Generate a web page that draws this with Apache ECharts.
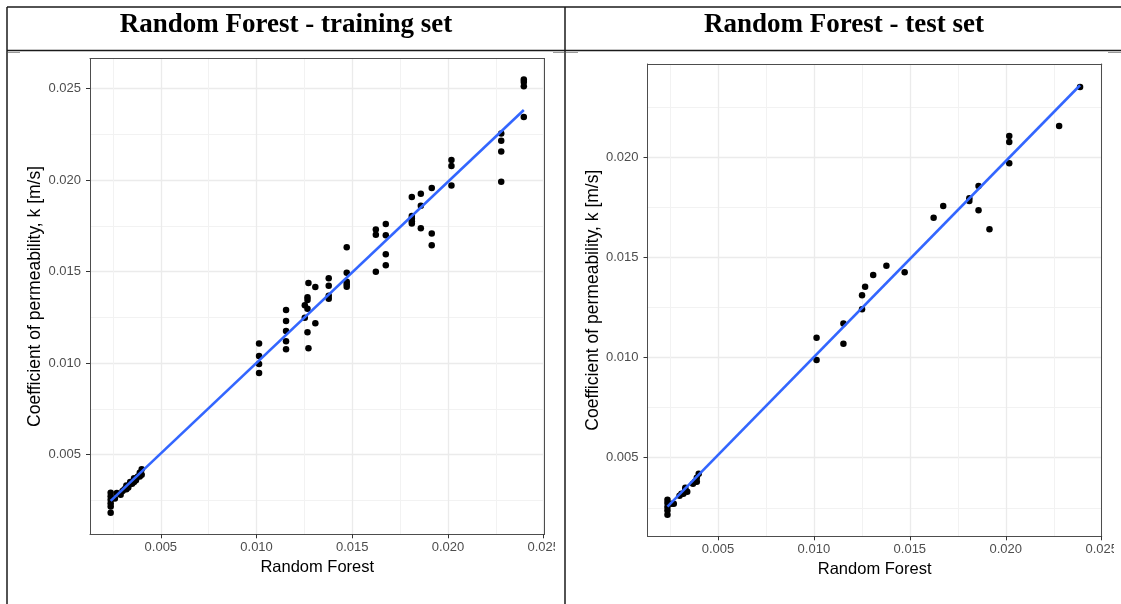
<!DOCTYPE html>
<html><head><meta charset="utf-8">
<script src="https://cdn.jsdelivr.net/npm/echarts@6/dist/echarts.min.js"></script>
<style>html,body{margin:0;padding:0;background:#fff}#c{width:1121px;height:604px}</style>
</head><body><div id="c"></div>
<script>
// ---- data ----
const trainX = [
  0.00238,0.00238,0.00238,0.00238,0.00238,0.00238,
  0.0026,0.0027,0.0029,0.0030,0.0031,0.0032,0.0032,0.0033,0.0034,0.0034,0.0035,0.0036,0.0036,0.0037,0.0038,0.0039,0.0039,0.0040,0.0040,
  0.01013,0.01013,0.01013,0.01013,
  0.01154,0.01154,0.01154,0.01154,0.01154,
  0.01271,0.01307,0.01266,0.01266,0.01252,0.01266,0.01252,0.01307,0.01266,0.01271,
  0.01377,0.01377,0.01377,0.01377,
  0.01471,0.01471,0.01471,0.01471,0.01471,
  0.01623,0.01623,0.01623,
  0.01675,0.01675,0.01675,0.01675,
  0.01811,0.01811,0.01811,0.01811,0.01811,
  0.01858,0.01858,0.01858,
  0.01915,0.01915,0.01915,
  0.02018,0.02018,0.02018,
  0.02278,0.02278,0.02278,0.02278,
  0.02396,0.02396,0.02396,0.02396
];
const trainY = [
  0.00291,0.00272,0.00253,0.00233,0.00216,0.00182,
  0.0026,0.0029,0.0028,0.0030,0.0031,0.0031,0.0033,0.0032,0.0034,0.0035,0.0034,0.0035,0.0037,0.0036,0.0038,0.0038,0.0040,0.0039,0.0042,
  0.01106,0.01039,0.00995,0.00946,
  0.0129,0.0123,0.01175,0.01119,0.01075,
  0.01437,0.01415,0.01359,0.01344,0.01315,0.01297,0.01248,0.01217,0.01168,0.01081,
  0.01463,0.01422,0.01368,0.01351,
  0.01632,0.01493,0.01444,0.0143,0.01417,
  0.0173,0.01701,0.01499,
  0.01759,0.01698,0.01594,0.01534,
  0.01907,0.01803,0.0179,0.01774,0.01763,
  0.01925,0.01859,0.01737,
  0.01957,0.01708,0.01643,
  0.0211,0.02077,0.0197,
  0.02254,0.02214,0.02156,0.0199,
  0.02549,0.02536,0.02513,0.02345
];
const testX = [
  0.00237,0.00237,0.00237,0.00237,0.00237,
  0.0026,0.0027,0.0030,0.0031,0.0032,0.0033,0.0033,0.0034,0.0037,0.0038,0.0039,0.0039,0.0040,
  0.01014,0.01014,0.01154,0.01154,0.01251,0.01251,0.01267,0.01309,0.01378,0.01473,
  0.01624,0.01674,0.0181,0.0181,0.01858,0.01858,0.01915,
  0.02018,0.02018,0.02018,0.02278,0.02387
];
const testY = [
  0.0029,0.00274,0.00254,0.00237,0.00215,
  0.0027,0.0027,0.0031,0.0032,0.0032,0.0034,0.0035,0.0033,0.0037,0.0038,0.0038,0.0040,0.0042,
  0.01099,0.00988,0.01169,0.01069,0.01311,0.01241,0.01353,0.01412,0.01457,0.01425,
  0.01697,0.01756,0.01794,0.01781,0.01855,0.01734,0.0164,
  0.02105,0.02075,0.01969,0.02155,0.02349
];
const xTicks = [0.005, 0.010, 0.015, 0.020, 0.025];
const xMinor = [0.0025, 0.0075, 0.0125, 0.0175, 0.0225];
const yTicksTrain = [0.005, 0.010, 0.015, 0.020, 0.025];
const yTicksTest = [0.005, 0.010, 0.015, 0.020];
const yMinor = [0.0025, 0.0075, 0.0125, 0.0175, 0.0225];
const titles = ['Random Forest - training set', 'Random Forest - test set'];
const xName = 'Random Forest';
const yName = 'Coefficient of permeability, k [m/s]';
const trainXRange = [0.0013, 0.02504], trainYRange = [0.00064, 0.02664];
const testXRange = [0.00133, 0.02500], testYRange = [0.00108, 0.02464];

// ---- helpers ----
function pairs(xs, ys) { return xs.map((x, i) => [x, ys[i]]); }
function lmFit(xs, ys) {
  const n = xs.length;
  const mx = xs.reduce((a, b) => a + b, 0) / n, my = ys.reduce((a, b) => a + b, 0) / n;
  let sxy = 0, sxx = 0;
  for (let i = 0; i < n; i++) { sxy += (xs[i] - mx) * (ys[i] - my); sxx += (xs[i] - mx) ** 2; }
  const b = sxy / sxx, a = my - b * mx;
  const x0 = Math.min(...xs), x1 = Math.max(...xs);
  return [[x0, a + b * x0], [x1, a + b * x1]];
}
const FONT = '"Liberation Sans", Arial, sans-serif';
const borderLine = { show: true, onZero: false, lineStyle: { color: '#4d4d4d', width: 1 } };
function majorX(grid, range) {
  return {
    type: 'value', gridIndex: grid, position: 'bottom', min: range[0], max: range[1],
    axisLine: borderLine,
    axisTick: { show: true, length: 4, customValues: xTicks, lineStyle: { color: '#333', width: 1 } },
    axisLabel: { customValues: xTicks, margin: 7, color: '#4D4D4D', fontSize: 13, fontFamily: FONT,
                 formatter: v => v.toFixed(3) },
    splitLine: { show: true, lineStyle: { color: '#EBEBEB', width: 1.3 } },
    name: xName, nameLocation: 'middle', nameGap: 23,
    nameTextStyle: { color: '#000', fontSize: 16.5, fontFamily: FONT }
  };
}
function minorX(grid, range) {
  return {
    type: 'value', gridIndex: grid, position: 'top', min: range[0], max: range[1],
    axisLine: borderLine,
    axisTick: { show: false, customValues: xMinor },
    axisLabel: { show: false, customValues: xMinor },
    splitLine: { show: true, lineStyle: { color: '#F2F2F2', width: 1 } }
  };
}
function majorY(grid, range, ticks, gap) {
  return {
    type: 'value', gridIndex: grid, position: 'left', min: range[0], max: range[1],
    axisLine: borderLine,
    axisTick: { show: true, length: 4, customValues: ticks, lineStyle: { color: '#333', width: 1 } },
    axisLabel: { customValues: ticks, margin: 9, color: '#4D4D4D', fontSize: 13, fontFamily: FONT,
                 formatter: v => v.toFixed(3) },
    splitLine: { show: true, lineStyle: { color: '#EBEBEB', width: 1.3 } },
    name: yName, nameLocation: 'middle', nameGap: gap,
    nameTextStyle: { color: '#000', fontSize: 17.5, fontFamily: FONT }
  };
}
function minorY(grid, range) {
  return {
    type: 'value', gridIndex: grid, position: 'right', min: range[0], max: range[1],
    axisLine: borderLine,
    axisTick: { show: false, customValues: yMinor },
    axisLabel: { show: false, customValues: yMinor },
    splitLine: { show: true, lineStyle: { color: '#F2F2F2', width: 1 } }
  };
}
const tableLine = (x1, y1, x2, y2, color, w) => ({
  type: 'line', z: 100, silent: true,
  shape: { x1, y1, x2, y2 }, style: { stroke: color || '#1a1a1a', lineWidth: w || 1.5 }
});
const TITLE_FONT = 'bold 27px "Liberation Serif", "Times New Roman", serif';
const chart = echarts.init(document.getElementById('c'), null, { renderer: 'canvas' });
chart.setOption({
  animation: false,
  backgroundColor: '#fff',
  grid: [
    { left: 90, top: 58.5, width: 454.5, height: 475.8 },
    { left: 647.5, top: 64, width: 455.3, height: 472.3 }
  ],
  xAxis: [majorX(0, trainXRange), minorX(0, trainXRange), majorX(1, testXRange), minorX(1, testXRange)],
  yAxis: [majorY(0, trainYRange, yTicksTrain, 42), minorY(0, trainYRange),
          majorY(1, testYRange, yTicksTest, 43), minorY(1, testYRange)],
  series: [
    { type: 'scatter', xAxisIndex: 0, yAxisIndex: 0, data: pairs(trainX, trainY), symbolSize: 6.5,
      itemStyle: { color: '#000', opacity: 1 }, z: 2 },
    { type: 'line', xAxisIndex: 0, yAxisIndex: 0, data: lmFit(trainX, trainY), showSymbol: false,
      lineStyle: { color: '#3366FF', width: 2.6 }, z: 3 },
    { type: 'scatter', xAxisIndex: 2, yAxisIndex: 2, data: pairs(testX, testY), symbolSize: 6.5,
      itemStyle: { color: '#000', opacity: 1 }, z: 2 },
    { type: 'line', xAxisIndex: 2, yAxisIndex: 2, data: lmFit(testX, testY), showSymbol: false,
      lineStyle: { color: '#3366FF', width: 2.6 }, z: 3 }
  ],
  graphic: [
    { type: 'rect', z: 90, silent: true, shape: { x: 555, y: 536, width: 9.5, height: 30 }, style: { fill: '#fff' } },
    { type: 'rect', z: 90, silent: true, shape: { x: 1114, y: 536, width: 7, height: 30 }, style: { fill: '#fff' } },
    tableLine(7, 7, 1121, 7),
    tableLine(7, 50.5, 1121, 50.5),
    tableLine(7, 7, 7, 604),
    tableLine(565, 7, 565, 604),
    tableLine(8, 52.5, 20, 52.5, '#999', 1),
    tableLine(553, 52.5, 564, 52.5, '#999', 1),
    tableLine(566, 52.5, 578, 52.5, '#999', 1),
    tableLine(1108, 52.5, 1121, 52.5, '#999', 1),
    { type: 'text', z: 100, x: 286, y: 25.5, style: { text: titles[0], fill: '#000',
      font: TITLE_FONT, textAlign: 'center', textVerticalAlign: 'middle' } },
    { type: 'text', z: 100, x: 844, y: 25.5, style: { text: titles[1], fill: '#000',
      font: TITLE_FONT, textAlign: 'center', textVerticalAlign: 'middle' } }
  ]
});
</script></body></html>
